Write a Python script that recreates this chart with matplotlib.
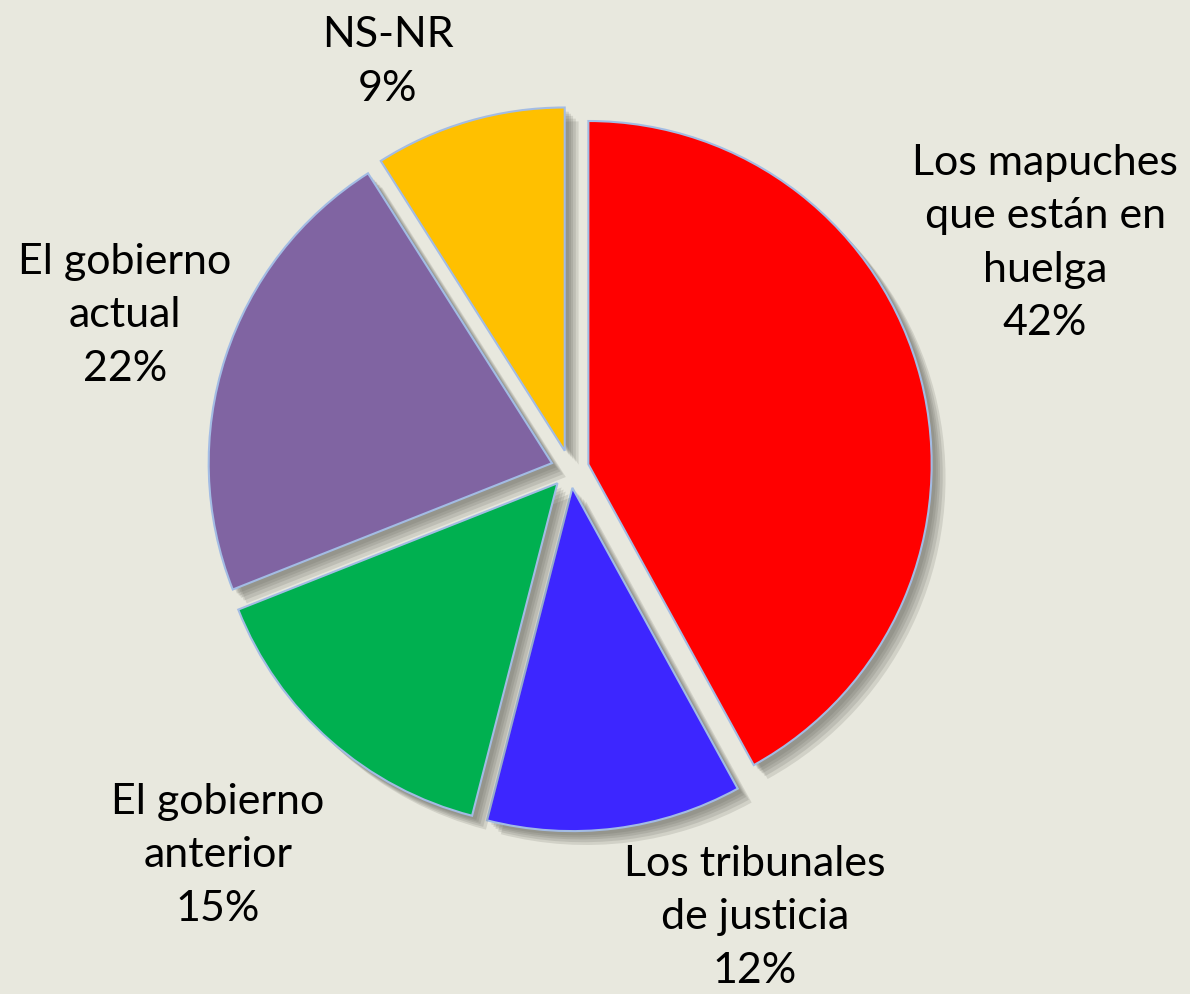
import matplotlib.pyplot as plt
import matplotlib.patheffects as pe

# DATA
labels = ['Los mapuches\nque están en\nhuelga', 'Los tribunales\nde justicia',
          'El gobierno\nanterior', 'El gobierno\nactual', 'NS-NR']
shares = [42, 12, 15, 22, 9]

# STYLES
colors = ['#FF0000', '#3D26FF', '#00B050', '#8064A2', '#FFC000']
bg_color = '#E8E8DE'
edge_color = '#A3BCE4'
# label centres in data units (pie radius = 1)
label_pos = [(1.377, 0.658), (0.536, -1.296), (-1.020, -1.116),
             (-1.290, 0.449), (-0.528, 1.183)]

fig = plt.figure(figsize=(11.9, 9.95), dpi=100, facecolor=bg_color)
ax = fig.add_axes([0, 0, 1, 1])
ax.set_facecolor(bg_color)

wedges, _ = ax.pie(shares, colors=colors, startangle=90, counterclock=False,
                   explode=[0.055] * len(shares), radius=0.995,
                   wedgeprops=dict(edgecolor=edge_color, linewidth=1.5))

# soft shadow: several faint offset copies
shadow = [pe.SimplePatchShadow(offset=(d, -d), shadow_rgbFace='#606058', alpha=0.17)
          for d in (10, 8, 6, 4.5, 3)]
for w in wedges:
    w.set_path_effects(shadow + [pe.Normal()])

for lab, val, (x, y) in zip(labels, shares, label_pos):
    ax.text(x, y, f'{lab}\n{val}%', ha='center', va='center', fontsize=31,
            family=['Lato', 'DejaVu Sans'], linespacing=1.5, color='black')

# pixel frame: centre at (570, 470), radius 345 px
ax.set_xlim(-570 / 345, (1190 - 570) / 345)
ax.set_ylim(-(995 - 470) / 345, 470 / 345)
ax.set_aspect('equal')
ax.axis('off')

fig.savefig('out.png', dpi=100, facecolor=bg_color)
